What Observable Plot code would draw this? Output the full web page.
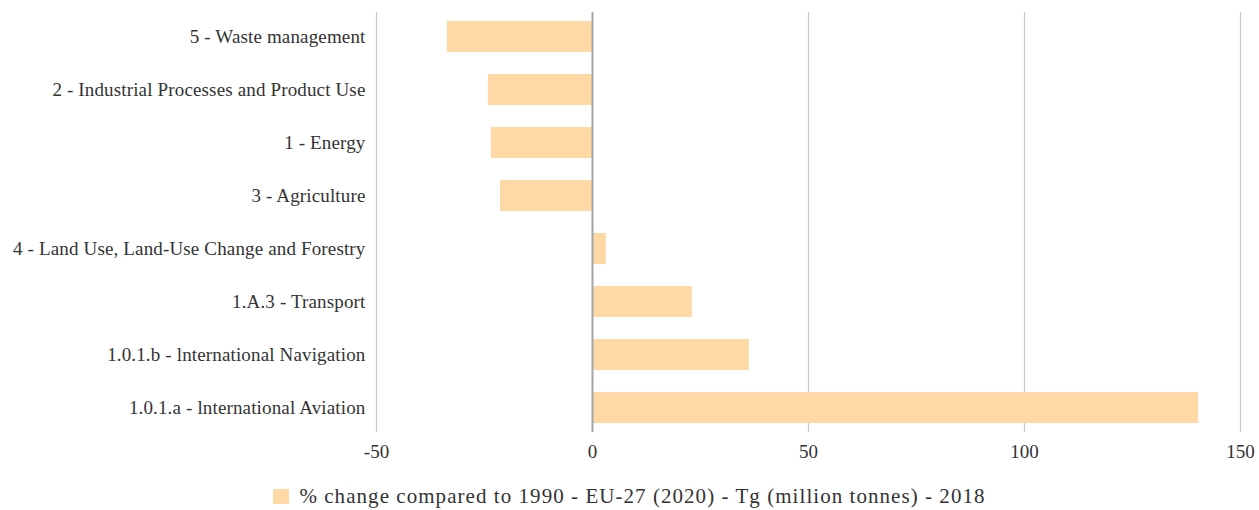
<!DOCTYPE html>
<html>
<head>
<meta charset="utf-8">
<script src="https://cdn.jsdelivr.net/npm/d3@7"></script>
<script src="https://cdn.jsdelivr.net/npm/@observablehq/plot@0.6"></script>
<style>
  html, body { margin: 0; padding: 0; background: #fff; }
  body { width: 1259px; height: 510px; overflow: hidden; font-family: "Liberation Serif", "DejaVu Serif", serif; color: #333; }
  #legend { display: flex; justify-content: center; align-items: center; height: 40px; padding-top: 6px; font-size: 21px; letter-spacing: 1.05px; color: #333; }
  #legend .sw { width: 16px; height: 15px; background: #fed9a6; margin-right: 10px; }
  g[aria-label="y-axis tick label"] text { letter-spacing: 0.15px; }
</style>
</head>
<body>
<div id="chart"></div>
<div id="legend"><span class="sw"></span><span>% change compared to 1990 - EU-27 (2020) - Tg (million tonnes) - 2018</span></div>
<script>
const categories = [
  "5 - Waste management",
  "2 - Industrial Processes and Product Use",
  "1 - Energy",
  "3 - Agriculture",
  "4 - Land Use, Land-Use Change and Forestry",
  "1.A.3 - Transport",
  "1.0.1.b - lnternational Navigation",
  "1.0.1.a - lnternational Aviation"
];
const values = [-33.6, -24.1, -23.4, -21.3, 3.2, 23.1, 36.3, 140.3];
const xTicks = [-50, 0, 50, 100, 150];

const data = categories.map((c, i) => ({category: c, value: values[i]}));

const chart = Plot.plot({
  width: 1259,
  height: 470,
  marginLeft: 376,
  marginRight: 19,
  marginTop: 12,
  marginBottom: 38,
  style: {fontFamily: "'Liberation Serif', 'DejaVu Serif', serif", fontSize: "18px", color: "#333", background: "#fff"},
  x: {domain: [-50, 150], ticks: xTicks, tickSize: 0, tickPadding: 12, label: null, tickFormat: d => d},
  y: {domain: categories, tickSize: 0, tickPadding: 10, label: null, paddingInner: 0.42, paddingOuter: 0.13},
  marks: [
    Plot.ruleX(xTicks.filter(d => d !== 0), {stroke: "#c8c8c8", strokeWidth: 1.2}),
    Plot.barX(data, {y: "category", x: "value", fill: "#fed9a6"}),
    Plot.ruleX([0], {stroke: "#a6a6a6", strokeWidth: 2}),
    Plot.axisY({tickSize: 0, tickPadding: 11, label: null, fontSize: 19}),
    Plot.axisX({ticks: xTicks, tickSize: 0, tickPadding: 12, label: null, tickFormat: d => d, fontSize: 19})
  ]
});
document.getElementById("chart").appendChild(chart);
</script>
</body>
</html>
